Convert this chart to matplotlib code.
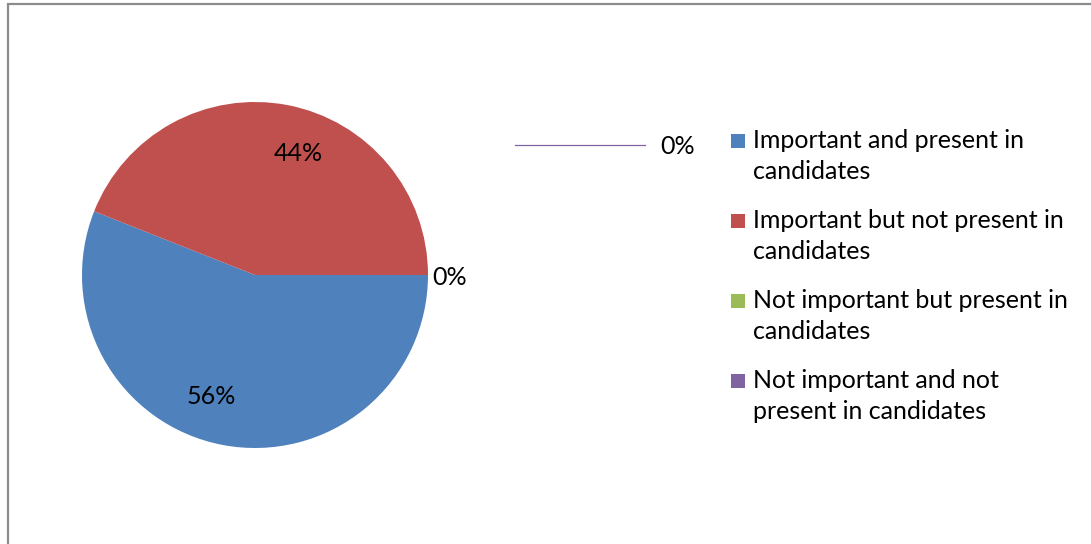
import numpy as np
import matplotlib.pyplot as plt
from matplotlib.patches import Rectangle
from matplotlib.lines import Line2D

plt.rcParams['font.family'] = ['Lato', 'DejaVu Sans']

labels = ['Important and present in\ncandidates',
          'Important but not present in\ncandidates',
          'Not important but present in\ncandidates',
          'Not important and not\npresent in candidates']
shares = [0.56, 0.44, 0.0, 0.0]
colors = ['#4F81BD', '#C0504D', '#9BBB59', '#8064A2']

W, H = 1091, 544
fig = plt.figure(figsize=(W / 100, H / 100), dpi=100)

# chart area frame (only top and left edges fall inside the image)
fig.patches.append(Rectangle((8 / W, -0.1), 1.2, (H - 4) / H + 0.1,
                             transform=fig.transFigure, fill=False,
                             edgecolor='#8c8c8c', linewidth=1.6))

cx, cy, r = 255, 275, 173
ax = fig.add_axes([(cx - r) / W, (H - cy - r) / H, 2 * r / W, 2 * r / H])
wedges, _ = ax.pie(shares, colors=colors, startangle=0, counterclock=False,
                   radius=1, normalize=False,
                   wedgeprops=dict(linewidth=0))
ax.set_xlim(-1, 1)
ax.set_ylim(-1, 1)
ax.axis('off')

fs = 18
for w, v in zip(wedges, shares):
    if v > 0:
        mid = np.deg2rad((w.theta1 + w.theta2) / 2 - 9)
        ax.text(0.745 * np.cos(mid), 0.745 * np.sin(mid), f'{v:.0%}',
                ha='center', va='center', fontsize=fs, color='black')

# zero-size slices: one label at the rim, one pulled out with a leader line
ax.text(1.025, -0.015, f'{shares[2]:.0%}', ha='left', va='center',
        fontsize=fs, color='black', clip_on=False)
ax.add_line(Line2D([1.503, 2.254], [0.751, 0.751], color=colors[3],
                   linewidth=0.9, clip_on=False))
ax.text(2.341, 0.742, f'{shares[3]:.0%}', ha='left', va='center',
        fontsize=fs, color='black', clip_on=False)

# legend
for i, (lab, c) in enumerate(zip(labels, colors)):
    base = 147 + 80 * i
    fig.patches.append(Rectangle((731 / W, (H - base - 1) / H), 14 / W, 14 / H,
                                 transform=fig.transFigure, facecolor=c,
                                 edgecolor='none'))
    # baseline alignment on a two-line label refers to its last line
    fig.text(753 / W, (H - base - 32) / H, lab, ha='left', va='baseline',
             fontsize=fs, color='black', linespacing=1.42)

fig.savefig('out.png', dpi=100)
